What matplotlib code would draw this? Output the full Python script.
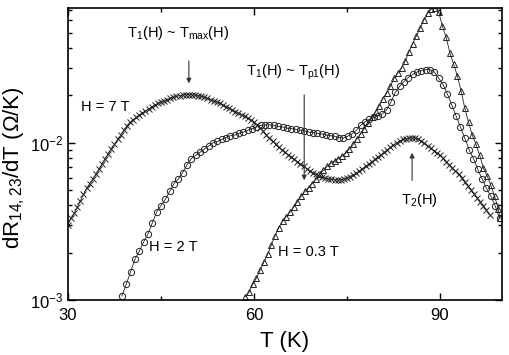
import numpy as np
import matplotlib.pyplot as plt
from matplotlib.ticker import MultipleLocator, LogLocator, NullFormatter

plt.rcParams['font.family'] = ['Liberation Sans', 'DejaVu Sans']
plt.rcParams['mathtext.default'] = 'regular'

# H = 7 T  (dR/dT in units of 1e-3 Ohm/K)
T_7 = [30, 30.5, 31, 31.5, 32, 32.5, 33, 33.5, 34, 34.5, 35, 35.5, 36, 36.5, 37, 37.5,
       38, 38.5, 39, 39.5, 40, 40.5, 41, 41.5, 42, 42.5, 43, 43.5, 44, 44.5, 45, 45.5,
       46, 46.5, 47, 47.5, 48, 48.5, 49, 49.5, 50, 50.5, 51, 51.5, 52, 52.5, 53, 53.5,
       54, 54.5, 55, 55.5, 56, 56.5, 57, 57.5, 58, 58.5, 59, 59.5, 60, 60.5, 61, 61.5,
       62, 62.5, 63, 63.5, 64, 64.5, 65, 65.5, 66, 66.5, 67, 67.5, 68, 68.5, 69, 69.5,
       70, 70.5, 71, 71.5, 72, 72.5, 73, 73.5, 74, 74.5, 75, 75.5, 76, 76.5, 77, 77.5,
       78, 78.5, 79, 79.5, 80, 80.5, 81, 81.5, 82, 82.5, 83, 83.5, 84, 84.5, 85, 85.5,
       86, 86.5, 87, 87.5, 88, 88.5, 89, 89.5, 90, 90.5, 91, 91.5, 92, 92.5, 93, 93.5,
       94, 94.5, 95, 95.5, 96, 96.5, 97, 97.5, 98]
R_7 = [3.02, 3.3, 3.55, 3.9, 4.27, 4.7, 5.13, 5.5, 5.89, 6.3, 6.76, 7.35, 7.94, 8.5, 9.12, 9.8,
       10.5, 11.2, 12.0, 12.8, 13.5, 14.0, 14.5, 15.0, 15.5, 15.9, 16.4, 16.9, 17.4, 17.8, 18.2, 18.5,
       18.8, 19.2, 19.5, 19.7, 19.95, 20.1, 20.2, 20.25, 20.2, 20.1, 19.95, 19.7, 19.5, 19.2, 18.8, 18.5,
       18.2, 17.8, 17.4, 17.0, 16.6, 16.2, 15.8, 15.4, 15.1, 14.7, 14.3, 13.9, 13.5, 13.0, 12.4, 11.8,
       11.2, 10.7, 10.2, 9.75, 9.33, 9.0, 8.71, 8.4, 8.13, 7.85, 7.59, 7.3, 7.08, 6.85, 6.61, 6.45,
       6.31, 6.15, 6.03, 5.95, 5.89, 5.85, 5.82, 5.8, 5.82, 5.88, 5.96, 6.1, 6.24, 6.4, 6.61, 6.85,
       7.08, 7.3, 7.59, 7.85, 8.13, 8.4, 8.71, 9.0, 9.33, 9.65, 10.0, 10.25, 10.5, 10.6, 10.7, 10.75,
       10.7, 10.5, 10.2, 9.9, 9.55, 9.2, 8.91, 8.6, 8.32, 7.95, 7.59, 7.25, 6.92, 6.6, 6.31, 5.95,
       5.62, 5.3, 5.01, 4.73, 4.47, 4.22, 3.98, 3.72, 3.47]

# H = 2 T
T_2 = [38.7, 39.4, 40.1, 40.8, 41.5, 42.2, 42.9, 43.6, 44.3, 45.0, 45.7, 46.4, 47.1, 47.8,
       48.5, 49.2, 49.9, 50.6, 51.3, 52.0, 52.7, 53.4, 54.1, 54.8, 55.5, 56.2, 56.9, 57.6,
       58.3, 59.0, 59.7, 60.4, 61.1, 61.8, 62.5, 63.2, 63.9, 64.6, 65.3, 66.0, 66.7, 67.4,
       68.1, 68.8, 69.5, 70.2, 70.9, 71.6, 72.3, 73.0, 73.7, 74.4, 75.1, 75.8, 76.5, 77.2,
       77.9, 78.6, 79.3, 80.0, 80.7, 81.4, 82.1, 82.8, 83.5, 84.2, 84.9, 85.6, 86.3, 87.0,
       87.7, 88.4, 89.1, 89.8, 90.5, 91.2, 91.9, 92.6, 93.3, 94.0, 94.7, 95.4, 96.1, 96.8,
       97.5, 98.2, 98.9, 99.6]
R_2 = [1.06, 1.26, 1.51, 1.82, 2.04, 2.34, 2.63, 3.09, 3.63, 3.98, 4.37, 4.90, 5.50, 5.89,
       6.46, 7.24, 7.94, 8.32, 8.71, 9.12, 9.55, 10.0, 10.2, 10.5, 10.8, 11.1, 11.2, 11.5,
       11.7, 12.0, 12.3, 12.6, 12.9, 13.0, 13.0, 12.9, 12.7, 12.6, 12.4, 12.3, 12.2, 12.0,
       11.9, 11.7, 11.6, 11.5, 11.4, 11.2, 11.1, 11.0, 10.8, 10.7, 11.0, 11.4, 12.0, 12.9,
       13.6, 14.1, 14.5, 14.8, 15.3, 16.2, 18.2, 20.9, 22.9, 24.5, 26.0, 27.2, 28.2, 28.8,
       29.2, 29.2, 28.2, 25.7, 23.4, 20.4, 17.4, 14.8, 12.6, 10.7, 9.02, 7.94, 6.76, 5.89,
       5.13, 4.57, 3.98, 3.31]

# H = 0.3 T
T_03 = [58.6, 59.2, 59.8, 60.4, 61.0, 61.6, 62.2, 62.8, 63.4, 64.0, 64.6, 65.2, 65.8, 66.4,
        67.0, 67.6, 68.2, 68.8, 69.4, 70.0, 70.6, 71.2, 71.8, 72.4, 73.0, 73.6, 74.2, 74.8,
        75.4, 76.0, 76.6, 77.2, 77.8, 78.4, 79.0, 79.6, 80.2, 80.8, 81.4, 82.0, 82.6, 83.2,
        83.8, 84.4, 85.0, 85.6, 86.2, 86.8, 87.4, 88.0, 88.6, 89.2, 89.8, 90.4, 91.0, 91.6,
        92.2, 92.8, 93.4, 94.0, 94.6, 95.2, 95.8, 96.4, 97.0, 97.6, 98.2, 98.8, 99.4, 99.7]
R_03 = [1.05, 1.12, 1.26, 1.38, 1.55, 1.74, 1.95, 2.24, 2.57, 2.88, 3.16, 3.39, 3.63, 3.89,
        4.22, 4.57, 4.90, 5.19, 5.50, 5.89, 6.31, 6.68, 7.08, 7.41, 7.67, 7.94, 8.22, 8.61,
        9.12, 9.77, 10.6, 11.4, 12.3, 13.3, 14.5, 15.8, 17.2, 19.1, 20.7, 22.9, 25.7, 27.9,
        29.9, 33.1, 38.0, 42.7, 47.9, 53.7, 60.3, 66.8, 70.8, 72.4, 67.6, 55.0, 46.8, 37.2,
        31.6, 26.6, 21.4, 16.6, 13.5, 11.2, 9.77, 8.32, 6.92, 6.17, 5.37, 4.57, 3.80, 3.31]

fig = plt.figure(figsize=(5.1, 3.55), dpi=100)
ax = fig.add_axes([0.1333, 0.155, 0.851, 0.822])

c = '#222222'
ax.plot(T_7, np.array(R_7) * 1e-3, '-', color=c, lw=0.6, marker='x', ms=5, mew=0.7)
ax.plot(T_2, np.array(R_2) * 1e-3, '-', color=c, lw=0.6, marker='o', ms=4.5, mew=0.7, mfc='none')
ax.plot(T_03, np.array(R_03) * 1e-3, '-', color=c, lw=0.6, marker='^', ms=5, mew=0.7, mfc='none')

ax.set_yscale('log')
ax.set_xlim(30, 100)
ax.set_ylim(1e-3, 0.0718)
ax.xaxis.set_major_locator(MultipleLocator(30))
ax.xaxis.set_minor_locator(MultipleLocator(15))
ax.yaxis.set_major_locator(LogLocator(base=10))
ax.yaxis.set_minor_locator(LogLocator(base=10, subs=np.arange(2, 10)))
ax.yaxis.set_minor_formatter(NullFormatter())
ax.tick_params(which='both', direction='in', top=True, right=True, labelsize=12, width=1)
ax.tick_params(which='major', length=5)
ax.tick_params(which='minor', length=3)
ax.tick_params(axis='x', pad=6)
for s in ax.spines.values():
    s.set_linewidth(1.2)

ax.set_xlabel('T (K)', fontsize=16)
ax.xaxis.set_label_coords(0.5, -0.105)
ax.set_ylabel(r'dR$_{14,23}$/dT (Ω/K)', fontsize=16)
ax.yaxis.set_label_coords(-0.094, 0.455)

fs = 10.5
ax.text(47.7, 0.050, r'T$_1$(H) ~ T$_{max}$(H)', fontsize=fs, ha='center', va='center')
ax.text(36, 0.0169, 'H = 7 T', fontsize=fs, ha='center', va='center')
ax.text(66.3, 0.0282, r'T$_1$(H) ~ T$_{p1}$(H)', fontsize=fs, ha='center', va='center')
ax.text(86.6, 0.00433, r'T$_2$(H)', fontsize=fs, ha='center', va='center')
ax.text(47, 0.00217, 'H = 2 T', fontsize=fs, ha='center', va='center')
ax.text(68.7, 0.00202, 'H = 0.3 T', fontsize=fs, ha='center', va='center')

arr = dict(arrowstyle='-|>', color='#333333', lw=0.8, mutation_scale=7)
ax.annotate('', xy=(49.5, 0.0229), xytext=(49.5, 0.0345), arrowprops=arr)
ax.annotate('', xy=(68.1, 0.00554), xytext=(68.1, 0.021), arrowprops=arr)
ax.annotate('', xy=(85.5, 0.00899), xytext=(85.5, 0.00554), arrowprops=arr)

fig.savefig('out.png', dpi=100)
